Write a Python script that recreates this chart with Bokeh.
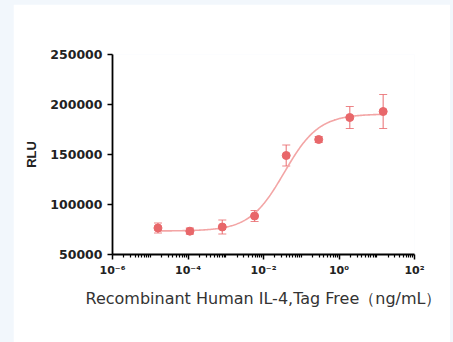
import numpy as np
from bokeh.plotting import figure
from bokeh.layouts import column
from bokeh.models import ColumnDataSource, Whisker, TeeHead, FixedTicker, CustomJSTickFormatter, BasicTickFormatter
from bokeh.embed import file_html
from bokeh.resources import INLINE

# data
conc = [1.6e-5, 1.12e-4, 8.1e-4, 5.8e-3, 0.040, 0.29, 1.93, 14.8]
rlu = [76500, 73300, 77500, 88500, 149000, 165000, 187000, 193000]
err = [5000, 3000, 7000, 5500, 10500, 3000, 11000, 17000]

# 4PL fit parameters (estimated)
fit_bottom = 73500
fit_top = 190500
fit_log_ec50 = -1.45
fit_hill = 0.95

y_ticks = [50000, 100000, 150000, 200000, 250000]
x_major = [1e-6, 1e-4, 1e-2, 1, 100]

point_color = "#e8676a"
curve_color = "#f3a5a5"

p = figure(width=437, height=338, x_axis_type="log", x_range=(1e-6, 1e2),
           y_range=(50000, 250000), output_backend="svg", toolbar_location=None,
           min_border_left=99, min_border_right=36, min_border_top=50, min_border_bottom=88,
           margin=(4, 3, 0, 13))
p.outline_line_color = None
p.grid.visible = False
p.background_fill_color = "white"
p.border_fill_color = "white"

# fitted curve
lx = np.linspace(np.log10(conc[0]), np.log10(conc[-1]), 300)
cy = fit_bottom + (fit_top - fit_bottom) / (1 + 10 ** ((fit_log_ec50 - lx) * fit_hill))
p.line(10 ** lx, cy, line_color=curve_color, line_width=1.6)

src = ColumnDataSource(dict(x=conc, y=rlu,
                            upper=[v + e for v, e in zip(rlu, err)],
                            lower=[v - e for v, e in zip(rlu, err)]))
w = Whisker(base="x", upper="upper", lower="lower", source=src,
            line_color=point_color, line_width=1.2, line_alpha=0.8,
            upper_head=TeeHead(size=8, line_color=point_color, line_width=1.2, line_alpha=0.8),
            lower_head=TeeHead(size=8, line_color=point_color, line_width=1.2, line_alpha=0.8))
p.add_layout(w)
p.scatter("x", "y", source=src, size=8, fill_color=point_color, line_color=point_color)

minor = []
for k in range(-6, 2):
    for m in range(1, 10):
        v = m * 10.0 ** k
        if m == 1 and (k % 2 == 0):
            continue
        minor.append(v)

xa = p.xaxis[0]
xa.ticker = FixedTicker(ticks=x_major, minor_ticks=minor)
xa.formatter = CustomJSTickFormatter(code="""
const sup = {'-':'\u207b','0':'\u2070','1':'\u00b9','2':'\u00b2','3':'\u00b3','4':'\u2074','5':'\u2075','6':'\u2076','7':'\u2077','8':'\u2078','9':'\u2079'};
const e = Math.round(Math.log10(tick));
return '10' + String(e).split('').map(c => sup[c]).join('');
""")
ya = p.yaxis[0]
ya.ticker = FixedTicker(ticks=y_ticks, minor_ticks=[])
ya.formatter = BasicTickFormatter(use_scientific=False)

for ax in (xa, ya):
    ax.axis_line_color = "black"
    ax.axis_line_width = 1.8
    ax.major_tick_line_color = "black"
    ax.major_tick_line_width = 1.5
    ax.minor_tick_line_color = "black"
    ax.minor_tick_line_width = 1.2
    ax.major_tick_in = 0
    ax.major_tick_out = 5
    ax.minor_tick_in = 0
    ax.minor_tick_out = 3
    ax.major_label_text_font = "DejaVu Sans"
    ax.major_label_text_font_style = "bold"
    ax.major_label_text_color = "#222222"

xa.major_label_text_font_size = "11px"
ya.major_label_text_font_size = "12.5px"
xa.major_label_standoff = 4
ya.major_label_standoff = 5

xa.axis_label = "Recombinant Human IL-4,Tag Free（ng/mL）"
xa.axis_label_text_font = "DejaVu Sans"
xa.axis_label_text_font_style = "normal"
xa.axis_label_text_font_size = "16px"
xa.axis_label_text_color = "#333333"
xa.axis_label_standoff = 9

ya.axis_label = "RLU"
ya.axis_label_text_font = "Liberation Sans"
ya.axis_label_text_font_style = "bold"
ya.axis_label_text_font_size = "13px"
ya.axis_label_text_color = "#222222"
ya.axis_label_standoff = 8

lay = column(p, styles={"background-color": "#f2f7fc"})
open("out.html", "w").write(file_html(lay, INLINE))
